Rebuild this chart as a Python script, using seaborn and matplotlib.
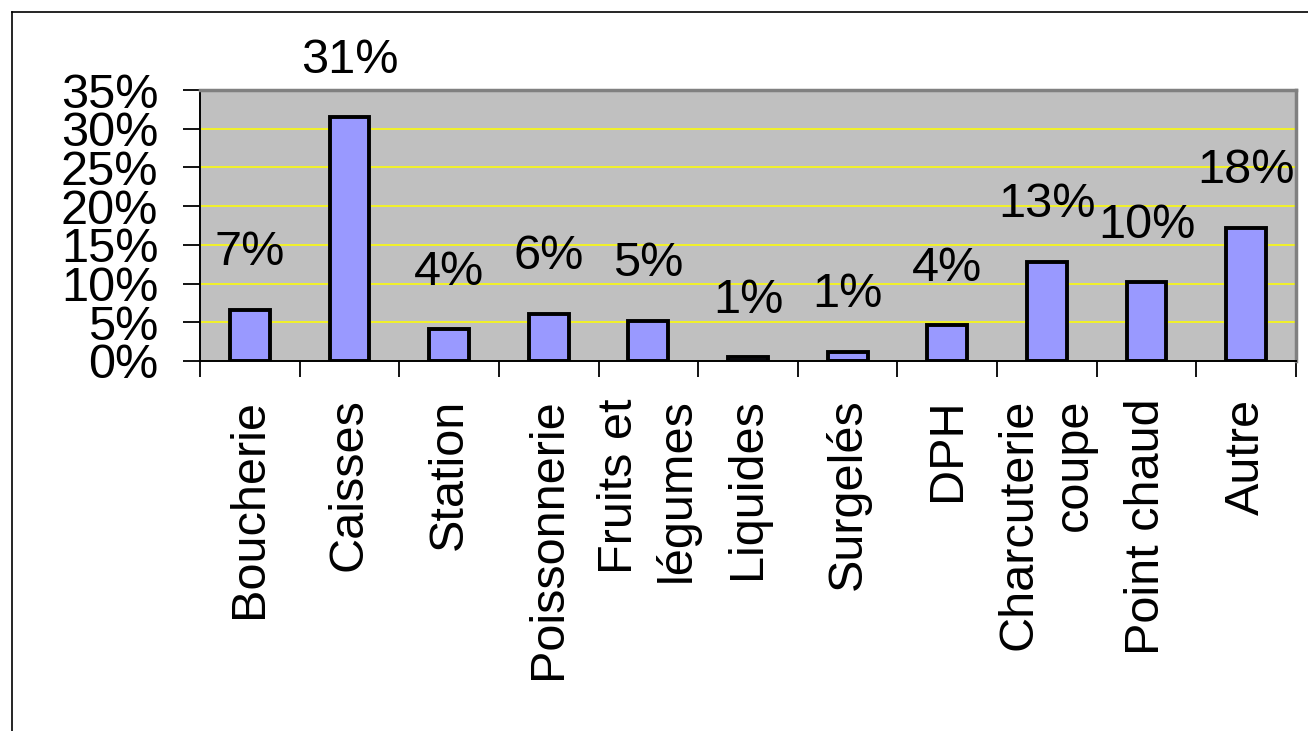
import matplotlib
matplotlib.use("Agg")
import matplotlib.pyplot as plt
from matplotlib.lines import Line2D
import seaborn as sns

categories = ["Boucherie", "Caisses", "Station", "Poissonnerie", "Fruits et\nlégumes",
              "Liquides", "Surgelés", "DPH", "Charcuterie\ncoupe", "Point chaud", "Autre"]
values = [6.6, 31.5, 4.1, 6.1, 5.2, 0.5, 1.2, 4.6, 12.8, 10.2, 17.2]
labels = ["7%", "31%", "4%", "6%", "5%", "1%", "1%", "4%", "13%", "10%", "18%"]
yticks = [0, 5, 10, 15, 20, 25, 30, 35]

plt.rcParams['font.family'] = ['Liberation Sans', 'DejaVu Sans']

fig = plt.figure(figsize=(13.08, 7.31), dpi=100)
ax = fig.add_axes([200 / 1308, 1 - 361 / 731, 1096 / 1308, 271 / 731])
ax.set_facecolor("#C0C0C0")

sns.barplot(x=list(range(len(values))), y=values, color="#9999FF", saturation=1,
            edgecolor="black", linewidth=2.8, width=0.4, ax=ax, zorder=3)

ax.set_xlim(-0.5, len(values) - 0.5)
ax.set_ylim(0, 35)
ax.set_yticks(yticks)
ax.set_yticklabels([f"{t}%" for t in yticks], fontsize=35)
ax.yaxis.grid(True, color="#FFFF00", linewidth=1.1, zorder=0)
ax.set_axisbelow(True)
ax.tick_params(axis="y", length=12, width=1.3, pad=18, color="black")

ax.set_xticks(range(len(categories)))
ax.set_xticklabels(categories, rotation=90, fontsize=35, va="top", ha="center",
                   multialignment="right", linespacing=1.3)
ax.tick_params(axis="x", which="major", length=0, pad=27)
ax.set_xticks([i - 0.5 for i in range(len(categories) + 1)], minor=True)
ax.tick_params(axis="x", which="minor", length=11.5, width=1.3, color="black")
ax.set_xlabel("")
ax.set_ylabel("")

for side in ["left", "bottom"]:
    ax.spines[side].set_color("black")
    ax.spines[side].set_linewidth(1.4)
for side in ["top", "right"]:
    ax.spines[side].set_color("#808080")
    ax.spines[side].set_linewidth(2.5)

for i, (v, lab) in enumerate(zip(values, labels)):
    ax.annotate(lab, (i, v), xytext=(0, 41), textcoords="offset points",
                ha="center", va="center", fontsize=35, annotation_clip=False, zorder=5)

# chart frame (only top and left edges visible)
x0 = 12 / 1308
y0 = 1 - 12 / 731
fig.add_artist(Line2D([x0, 1.0], [y0, y0], color="black", linewidth=1.2))
fig.add_artist(Line2D([x0, x0], [0.0, y0], color="black", linewidth=1.2))

fig.savefig("out.png", dpi=100)
